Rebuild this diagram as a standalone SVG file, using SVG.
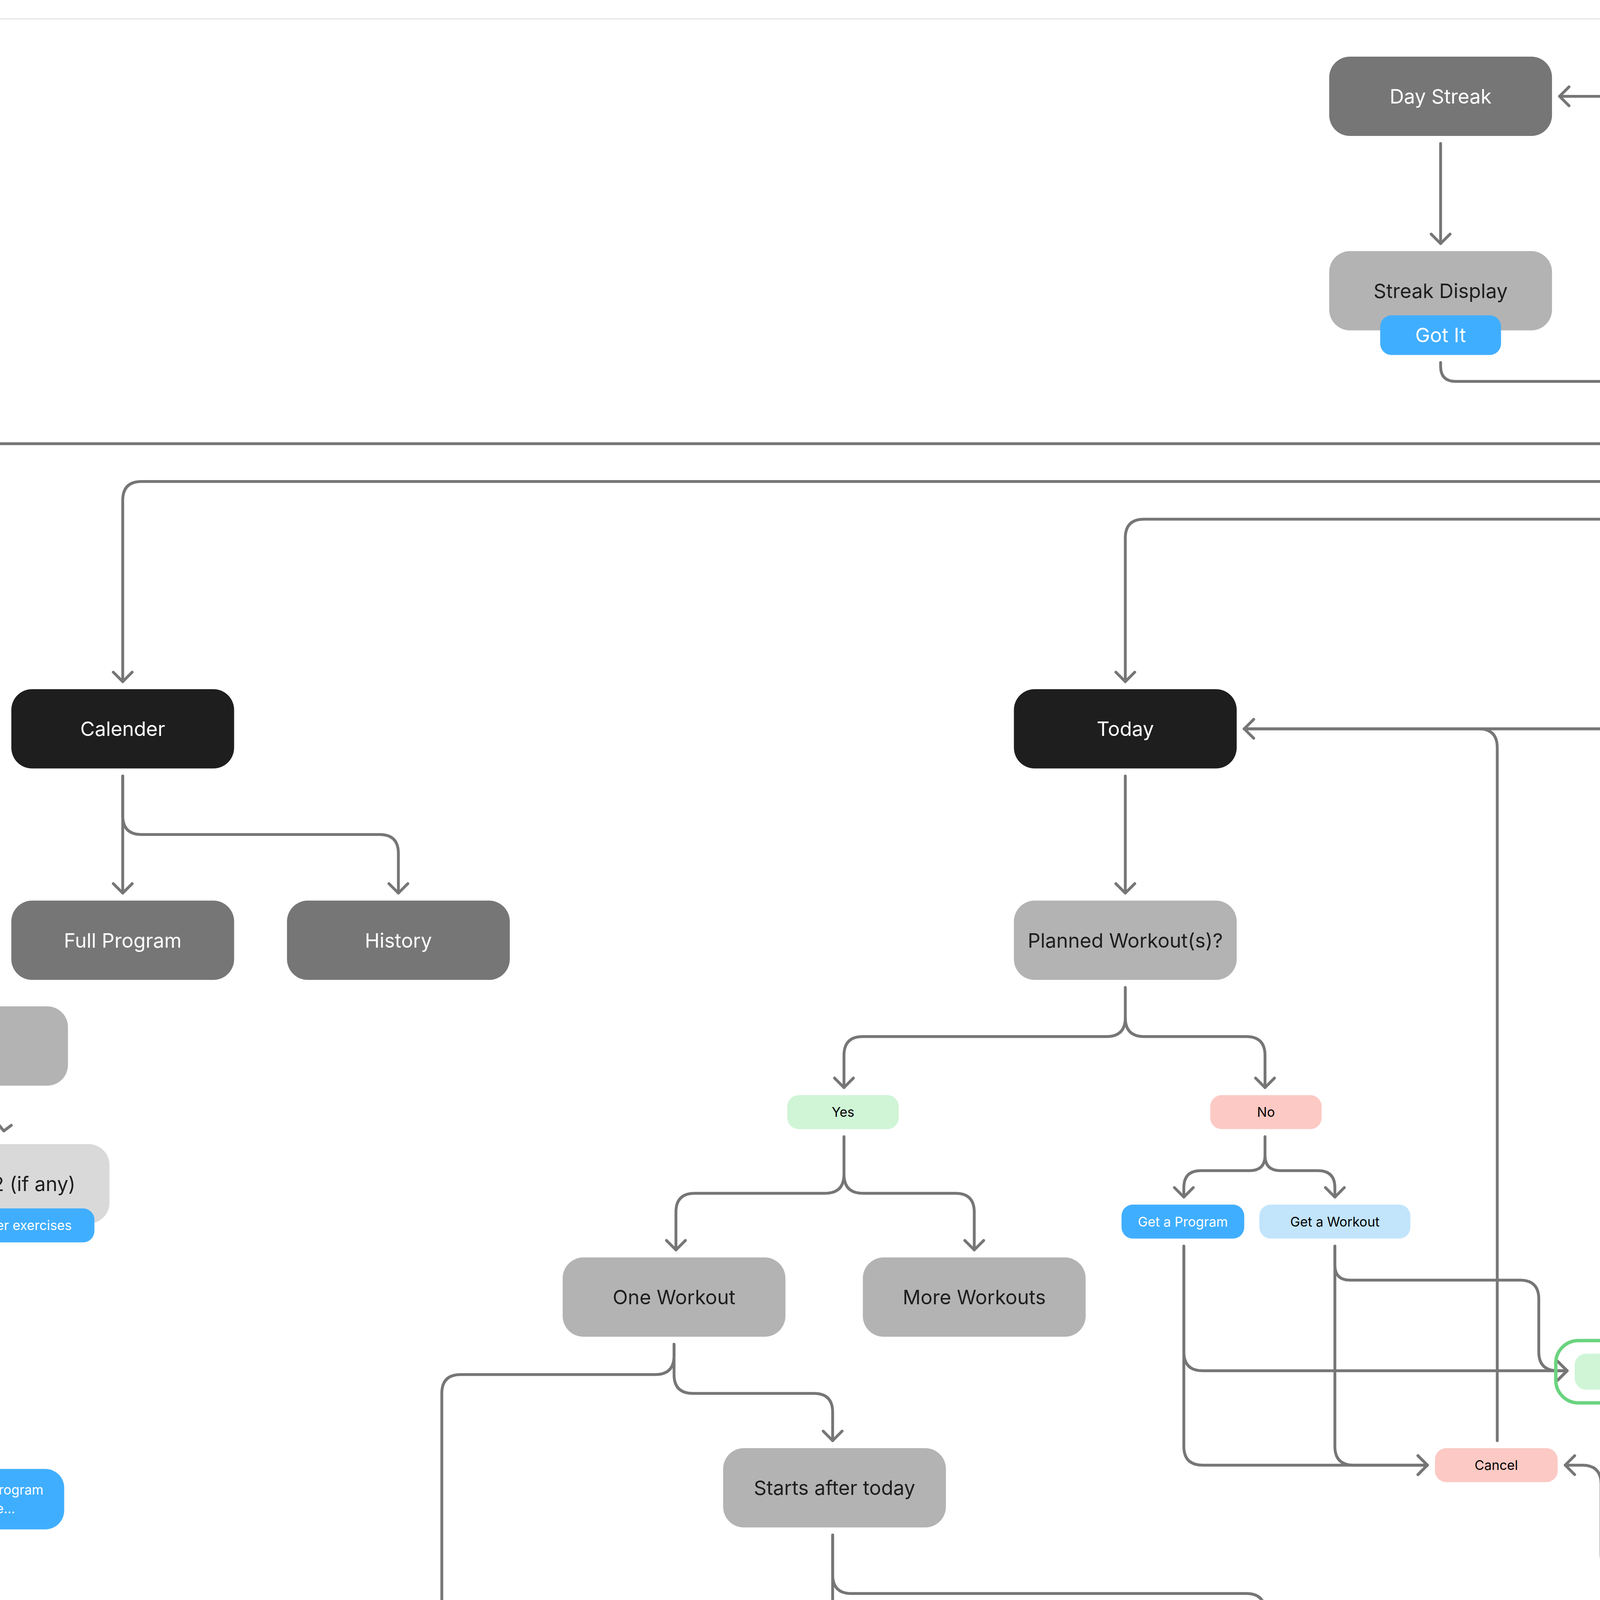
<svg xmlns="http://www.w3.org/2000/svg" width="6182" height="7581" viewBox="0 0 6182 7581">
<style>
text{font-family:Inter,"Noto Sans","Liberation Sans",sans-serif;text-anchor:middle;dominant-baseline:central}
.t{font-size:10.5px;fill:#1e1e1e}.w{fill:#fff}.s{font-size:7px}
.c path,.c polyline{fill:none;stroke:#767676;stroke-width:1.5;stroke-linecap:round;stroke-linejoin:round}
.d1{fill:#767676}.d0{fill:#1e1e1e}.g1{fill:#b3b3b3}.g2{fill:#d9d9d9}.or{fill:#ffa040}.bl{fill:#40aeff}.lb{fill:#c2e5fc}.gr{fill:#cff5d6}.rd{fill:#fcc9c4}
.ol{fill:none;stroke:#6bd37e;stroke-width:1.8}
</style>
<defs>
<marker id="a" viewBox="-7 -7 9 14" markerWidth="9" markerHeight="14" refX="0" refY="0" orient="auto" markerUnits="userSpaceOnUse">
<path d="M-5,-5 L0,0 L-5,5" fill="none" stroke="#767676" stroke-width="1.5" stroke-linecap="round" stroke-linejoin="round"/>
</marker>
</defs>
<rect width="6182" height="7581" fill="#fff"/>
<g transform="scale(4.8335)">
<line x1="0" y1="10" x2="1279" y2="10" stroke="#e3e3e3" stroke-width="0.6"/>
<line x1="0" y1="1565" x2="1279" y2="1565" stroke="#e3e3e3" stroke-width="0.6"/>
<g class="c" id="connectors">
<path d="M910,51 H826" marker-end="url(#a)"/>
<path d="M763,76 V129" marker-end="url(#a)"/>
<path d="M763,192 V194 q0,8 8,8 H993" marker-end="url(#a)"/>
<path d="M998,76 V265"/>
<path d="M998,225 q0,10 -10,10 H0"/>
<path d="M998,245 q0,10 -10,10 H75 q-10,0 -10,10 V361" marker-end="url(#a)"/>
<path d="M998,245 q0,10 10,10 H1279"/>
<path d="M998,265 q0,10 -10,10 H606 q-10,0 -10,10 V361" marker-end="url(#a)"/>
<path d="M998,265 q0,10 10,10 H1131 q10,0 10,10 V361" marker-end="url(#a)"/>
<path d="M65,411 V473" marker-end="url(#a)"/>
<path d="M65,411 V432 q0,10 10,10 H201 q10,0 10,10 V473" marker-end="url(#a)"/>
<polyline points="-2,594 2,599 6,596"/>
<path d="M596,411 V473" marker-end="url(#a)"/>
<path d="M596,523 V539 q0,10 -10,10 H457 q-10,0 -10,10 V576" marker-end="url(#a)"/>
<path d="M596,539 q0,10 10,10 H660 q10,0 10,10 V576" marker-end="url(#a)"/>
<path d="M447,602 V622 q0,10 -10,10 H368 q-10,0 -10,10 V662" marker-end="url(#a)"/>
<path d="M447,622 q0,10 10,10 H506 q10,0 10,10 V662" marker-end="url(#a)"/>
<path d="M670,602 V612 q0,8 -8,8 H636 q-9,0 -9,9 V634" marker-end="url(#a)"/>
<path d="M670,612 q0,8 8,8 H698 q9,0 9,9 V634" marker-end="url(#a)"/>
<path d="M627,660 V716 q0,10 10,10 H830" marker-end="url(#a)"/>
<path d="M627,660 V766 q0,10 10,10 H756" marker-end="url(#a)"/>
<path d="M707,660 V670 q0,8 8,8 H805 q10,0 10,10 V716 q0,10 10,10 H830" marker-end="url(#a)"/>
<path d="M707,660 V766 q0,10 10,10 H756" marker-end="url(#a)"/>
<path d="M793,763 V396 q0,-10 -10,-10 H659" marker-end="url(#a)"/>
<path d="M863,714 V396 q0,-10 -10,-10 H659"/>
<path d="M943,597 V396 q0,-10 -10,-10 H659"/>
<path d="M1012,517 V396 q0,-10 -10,-10 H659"/>
<path d="M907,833 H873 q-10,0 -10,-10 V740" marker-end="url(#a)"/>
<path d="M907,833 H858 q-10,0 -10,-10 V786 q0,-10 -10,-10 H829" marker-end="url(#a)"/>
<path d="M1106,609 H986" marker-end="url(#a)"/>
<path d="M1106,609 H1023 q-10,0 -10,-10 V543" marker-end="url(#a)"/>
<path d="M1141,411 V783" marker-end="url(#a)"/>
<path d="M1141,687 q0,10 -10,10 H980 q-10,0 -10,10 V784" marker-end="url(#a)"/>
<path d="M1141,687 q0,10 10,10 H1279"/>
<path d="M357,712 V728 q0,10 10,10 H431 q10,0 10,10 V763" marker-end="url(#a)"/>
<path d="M357,712 V718 q0,10 -10,10 H244 q-10,0 -10,10 V1187" marker-end="url(#a)"/>
<path d="M441,813 V874" marker-end="url(#a)"/>
<path d="M441,813 V834 q0,10 10,10 H660 q10,0 10,10 V874" marker-end="url(#a)"/>
<path d="M441,924 V942 q0,10 -10,10 H368 q-10,0 -10,10 V980" marker-end="url(#a)"/>
<path d="M441,942 q0,10 10,10 H520 q10,0 10,10 V980" marker-end="url(#a)"/>
<path d="M420,1004 q10,0 10,10 V1042 q0,10 -10,10 H367 q-10,0 -10,10 V1076" marker-end="url(#a)"/>
<path d="M357,1135 V1172 q0,10 10,10 H440 q10,0 10,-10 V1014 q0,-10 -10,-10 H420" marker-end="url(#a)"/>
<path d="M594,1004 q10,0 10,10 V1042 q0,10 -10,10 H541 q-10,0 -10,10 V1076" marker-end="url(#a)"/>
<path d="M531,1135 V1172 q0,10 10,10 H614 q10,0 10,-10 V1014 q0,-10 -10,-10 H594" marker-end="url(#a)"/>
<path d="M734,899 q8,0 8,8 V932 q0,10 -10,10 H732 q-10,0 -10,10 V964" marker-end="url(#a)"/>
<path d="M733,1022 V1028 q0,8 8,8 H797 q10,0 10,-10 V909 q0,-10 -10,-10 H734" marker-end="url(#a)"/>
<path d="M234,1237 V1252 q0,10 -10,10 H151 q-10,0 -10,10 V1342" marker-end="url(#a)"/>
<path d="M234,1252 q0,10 10,10 H287 q10,0 10,10 V1342" marker-end="url(#a)"/>
<path d="M234,1252 q0,10 10,10 H443 q10,0 10,10 V1342" marker-end="url(#a)"/>
<path d="M234,1252 q0,10 10,10 H611 q10,0 10,10 V1342" marker-end="url(#a)"/>
<path d="M621,1392 V1445" marker-end="url(#a)"/>
</g>
<g id="day-streak"><rect x="704" y="30" width="118" height="42" rx="11" class="d1"/><text x="763" y="51" class="t w">Day Streak</text></g>
<g id="open-app"><rect x="914" y="30" width="168" height="42" rx="11" class="or"/><text x="998" y="51" class="t">Open App</text></g>
<g id="streak-display"><rect x="704" y="133" width="118" height="42" rx="11" class="g1"/><text x="763" y="154" class="t">Streak Display</text>
<rect x="731" y="167" width="64" height="21" rx="6" class="bl"/><text x="763" y="177.5" class="t w">Got It</text></g>
<g id="calender"><rect x="6" y="365" width="118" height="42" rx="11" class="d0"/><text x="65" y="386" class="t w">Calender</text></g>
<g id="today"><rect x="537" y="365" width="118" height="42" rx="11" class="d0"/><text x="596" y="386" class="t w">Today</text></g>
<g id="programs"><rect x="1083" y="365" width="118" height="42" rx="11" class="d0"/><text x="1142" y="386" class="t w">Programs</text></g>
<g id="full-program"><rect x="6" y="477" width="118" height="42" rx="11" class="d1"/><text x="65" y="498" class="t w">Full Program</text></g>
<g id="history"><rect x="152" y="477" width="118" height="42" rx="11" class="d1"/><text x="211" y="498" class="t w">History</text></g>
<g id="left-partial-1"><rect x="-80" y="533" width="116" height="42" rx="11" class="g1"/></g>
<g id="left-partial-2"><rect x="-80" y="606" width="138" height="42" rx="11" class="g2"/><text x="40" y="627" class="t" style="text-anchor:end">2 (if any)</text>
<rect x="-80" y="640" width="130" height="18" rx="6" class="bl"/><text x="38" y="649" class="s w" style="text-anchor:end">her exercises</text></g>
<g id="left-partial-3"><rect x="-80" y="778" width="114" height="32" rx="10" class="bl"/><text x="23" y="789" class="s w" style="text-anchor:end">rogram</text><text x="8" y="799" class="s w" style="text-anchor:end">e...</text></g>
<g id="planned"><rect x="537" y="477" width="118" height="42" rx="11" class="g1"/><text x="596" y="498" class="t">Planned Workout(s)?</text></g>
<g id="yes"><rect x="417" y="580" width="59" height="18" rx="6" class="gr"/><text x="446.5" y="589" class="s">Yes</text></g>
<g id="no"><rect x="641" y="580" width="59" height="18" rx="6" class="rd"/><text x="670.5" y="589" class="s">No</text></g>
<g id="get-program-1"><rect x="594" y="638" width="65" height="18" rx="6" class="bl"/><text x="626.5" y="647" class="s w">Get a Program</text></g>
<g id="get-workout-1"><rect x="667" y="638" width="80" height="18" rx="6" class="lb"/><text x="707" y="647" class="s">Get a Workout</text></g>
<g id="one-workout"><rect x="298" y="666" width="118" height="42" rx="11" class="g1"/><text x="357" y="687" class="t">One Workout</text></g>
<g id="more-workouts"><rect x="457" y="666" width="118" height="42" rx="11" class="g1"/><text x="516" y="687" class="t">More Workouts</text></g>
<g id="add-1"><rect x="824" y="710" width="80" height="33" rx="12" class="ol"/><rect x="834" y="717" width="59" height="19" rx="6" class="gr"/><text x="863.5" y="726.5" class="s">Add</text></g>
<g id="cancel-1"><rect x="760" y="767" width="65" height="18" rx="6" class="rd"/><text x="792.5" y="776" class="s">Cancel</text></g>
<g id="cancel-2"><rect x="980" y="521" width="65" height="18" rx="6" class="rd"/><text x="1012.5" y="530" class="s">Cancel</text></g>
<g id="add-2"><rect x="905" y="593" width="79" height="32" rx="12" class="ol"/><rect x="912" y="600" width="65" height="18" rx="6" class="gr"/><text x="944" y="609" class="s">Add</text></g>
<g id="get-program-2"><rect x="1109" y="600" width="66" height="18" rx="6" class="bl"/><text x="1142" y="609" class="s w">Get a Program</text></g>
<g id="right-partial-1"><rect x="1253" y="627" width="80" height="41" rx="11" class="g1"/></g>
<g id="upcoming"><rect x="894" y="788" width="151" height="42" rx="11" class="g1"/><text x="969.5" y="809" class="t">Upcoming</text>
<rect x="911" y="824" width="87" height="18" rx="6" class="bl"/><text x="954.5" y="833" class="s w">Add future Program</text></g>
<g id="past"><rect x="1066" y="787" width="151" height="42" rx="11" class="g1"/><text x="1141.5" y="808" class="t">Past</text></g>
<g id="right-partial-2"><rect x="1238" y="788" width="100" height="42" rx="11" class="g1"/></g>
<g id="starts-after"><rect x="383" y="767" width="118" height="42" rx="11" class="g1"/><text x="442" y="788" class="t">Starts after today</text></g>
<g id="starts-in-x"><rect x="368" y="878" width="148" height="42" rx="11" class="g2"/><text x="442" y="899" class="t">Workout starts in X days</text></g>
<text x="441" y="961" class="t">or</text>
<g id="personalization"><rect x="611" y="878" width="119" height="42" rx="11" class="g2"/><text x="670" y="899" class="t">Personalization</text><circle cx="716" cy="898" r="4" class="bl"/></g>
<g id="info-sheet"><rect x="663" y="968" width="118" height="42" rx="11" class="g2"/><text x="722" y="989" class="t">Info bottom sheet</text>
<rect x="700" y="1001" width="66" height="17" rx="6" class="bl"/><text x="733" y="1009.5" class="s w">Got it</text></g>
<g id="single"><rect x="298" y="984" width="118" height="42" rx="11" class="g2"/><text x="357" y="1005" class="t">Single</text><circle cx="379" cy="1004" r="4" class="bl"/>
<rect x="325" y="1021" width="65" height="17" rx="6" class="bl"/><text x="357.5" y="1029.5" class="s w">Get a Workout</text></g>
<g id="rest"><rect x="472" y="984" width="118" height="42" rx="11" class="g2"/><text x="531" y="1005" class="t">Rest</text><circle cx="550" cy="1004" r="4" class="bl"/>
<rect x="498" y="1021" width="66" height="17" rx="6" class="bl"/><text x="531" y="1029.5" class="s w">Rest Instead</text></g>
<g id="single-info"><rect x="298" y="1080" width="118" height="42" rx="11" class="g2"/><text x="357" y="1101" class="t">Single Workout Info</text>
<rect x="325" y="1113" width="65" height="18" rx="6" class="bl"/><text x="357.5" y="1122" class="s w">Got it</text></g>
<g id="rest-info"><rect x="472" y="1080" width="118" height="42" rx="11" class="g2"/><text x="531" y="1101" class="t">Rest Days Info</text>
<rect x="498" y="1113" width="66" height="18" rx="6" class="bl"/><text x="531" y="1122" class="s w">Got it</text></g>
<g id="starts-today"><rect x="175" y="1191" width="118" height="42" rx="11" class="g1"/><text x="234" y="1212" class="t">Starts Today</text></g>
<g id="energy"><rect x="82" y="1346" width="118" height="42" rx="11" class="g2"/><text x="141" y="1367" class="t">Energy Slider</text></g>
<g id="warm-up"><rect x="238" y="1346" width="118" height="42" rx="11" class="g2"/><text x="297" y="1367" class="t">Warm Up</text>
<rect x="238" y="1392" width="118" height="42" rx="11" class="g2"/><text x="297" y="1413" class="t">Details</text>
<rect x="228" y="1426" width="65" height="18" rx="6" class="bl"/><text x="260.5" y="1435" class="s w">Start Warmup</text>
<rect x="300" y="1426" width="66" height="18" rx="6" class="lb"/><text x="333" y="1435" class="s">Mark Complete</text></g>
<g id="workout-name-1"><rect x="393" y="1346" width="118" height="42" rx="11" class="g2"/><text x="452" y="1367" class="t">Workout Name</text>
<rect x="393" y="1392" width="118" height="42" rx="11" class="g2"/><text x="452" y="1413" class="t">Details</text>
<rect x="384" y="1426" width="65" height="18" rx="6" class="bl"/><text x="416.5" y="1435" class="s w">Start Warmup</text>
<rect x="456" y="1426" width="65" height="18" rx="6" class="lb"/><text x="488.5" y="1435" class="s">Mark Complete</text></g>
<g id="single-workouts"><rect x="562" y="1346" width="118" height="42" rx="11" class="g2"/><text x="621" y="1367" class="t">Single Workouts</text></g>
<g id="workout-name-2"><rect x="562" y="1449" width="118" height="42" rx="11" class="g2"/><text x="621" y="1470" class="t">Workout Name</text>
<rect x="562" y="1495" width="118" height="42" rx="11" class="g2"/><text x="621" y="1516" class="t">Details</text>
<rect x="553" y="1529" width="65" height="18" rx="6" class="bl"/><text x="585.5" y="1538" class="s w">Start Warmup</text>
<rect x="626" y="1529" width="65" height="18" rx="6" class="lb"/><text x="658.5" y="1538" class="s">Mark Complete</text></g>
</g>
</svg>
